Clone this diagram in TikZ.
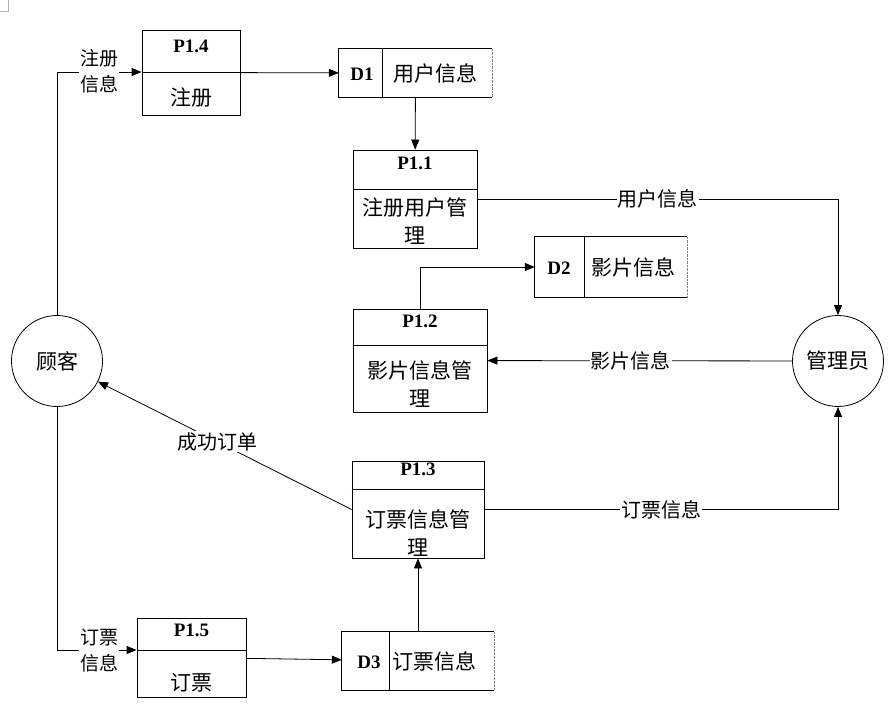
\documentclass[tikz,border=0pt]{standalone}
\usepackage{fontspec}
\setmainfont{Liberation Serif}
\newfontfamily\cjk{Noto Sans CJK SC}
\usetikzlibrary{arrows.meta,positioning,calc}

\begin{document}
\begin{tikzpicture}[x=1pt,y=-1pt,
    box/.style={draw, line width=0.8pt, inner sep=0pt},
    store/.style={draw=none, inner sep=0pt},
    ent/.style={draw, circle, line width=0.8pt, minimum size=91pt, inner sep=0pt, font=\cjk\fontsize{21}{24}\selectfont},
    pid/.style={font=\bfseries\fontsize{19}{22}\selectfont, inner sep=0pt},
    ptxt/.style={font=\cjk\fontsize{21}{28}\selectfont, align=center, inner sep=0pt},
    lbl/.style={font=\cjk\fontsize{20}{26}\selectfont, align=center, fill=white, inner sep=1pt},
    sidelbl/.style={lbl, font=\cjk\fontsize{19}{26}\selectfont},
    flow/.style={draw, line width=0.8pt, -{Triangle[length=10pt,width=8pt]}}
]
    % Margini della pagina
    \useasboundingbox (0,0) rectangle (892,723);
    \draw[gray!60, line width=0.5pt] (0,11) -- (8,11) -- (8,0);

    % Entita' esterne
    \node[ent] (cust) at (57,361) {顾客};
    \node[ent] (mgr) at (838,361) {管理员};

    % Processi
    \node[box, minimum width=98pt, minimum height=85pt] (p14) at (191,72.5) {};
    \draw[line width=0.8pt] (p14.west |- 0,72) -- (p14.east |- 0,72);
    \node[pid] (p14id) at (191,46) {P1.4};
    \node[ptxt] (p14txt) at (191,98) {注册};

    \node[box, minimum width=124pt, minimum height=98pt] (p11) at (415,199) {};
    \draw[line width=0.8pt] (p11.west |- 0,189) -- (p11.east |- 0,189);
    \node[pid] (p11id) at (415,163) {P1.1};
    \node[ptxt] (p11txt) at (415,221) {注册用户管\\理};

    \node[box, minimum width=134pt, minimum height=103pt] (p12) at (420,360.5) {};
    \draw[line width=0.8pt] (p12.west |- 0,345) -- (p12.east |- 0,345);
    \node[pid] (p12id) at (420,321) {P1.2};
    \node[ptxt] (p12txt) at (420,384) {影片信息管\\理};

    \node[box, minimum width=132pt, minimum height=97pt] (p13) at (418,509.5) {};
    \draw[line width=0.8pt] (p13.west |- 0,489) -- (p13.east |- 0,489);
    \node[pid] (p13id) at (418,469) {P1.3};
    \node[ptxt] (p13txt) at (418,533) {订票信息管\\理};

    \node[box, minimum width=109pt, minimum height=79pt] (p15) at (191.5,657.5) {};
    \draw[line width=0.8pt] (p15.west |- 0,650) -- (p15.east |- 0,650);
    \node[pid] (p15id) at (191.5,630) {P1.5};
    \node[ptxt] (p15txt) at (191.5,683) {订票};

    % Archivi dati
    \node[store, minimum width=153pt, minimum height=48pt] (d1) at (415.5,73) {};
    \draw[line width=0.8pt] (d1.north east) -- (d1.north west) -- (d1.south west) -- (d1.south east);
    \draw[gray, densely dotted] (d1.north east) -- (d1.south east);
    \draw[line width=0.8pt] (d1.north -| 382,0) -- (d1.south -| 382,0);
    \node[pid] (d1id) at (362,74) {D1};
    \node[ptxt] (d1txt) at (435,73) {用户信息};

    \node[store, minimum width=152pt, minimum height=60pt] (d2) at (611,267) {};
    \draw[line width=0.8pt] (d2.north east) -- (d2.north west) -- (d2.south west) -- (d2.south east);
    \draw[gray, densely dotted] (d2.north east) -- (d2.south east);
    \draw[line width=0.8pt] (d2.north -| 584,0) -- (d2.south -| 584,0);
    \node[pid] (d2id) at (559,268) {D2};
    \node[ptxt] (d2txt) at (633,267) {影片信息};

    \node[store, minimum width=152pt, minimum height=58pt] (d3) at (418,661) {};
    \draw[line width=0.8pt] (d3.north east) -- (d3.north west) -- (d3.south west) -- (d3.south east);
    \draw[gray, densely dotted] (d3.north east) -- (d3.south east);
    \draw[line width=0.8pt] (d3.north -| 389,0) -- (d3.south -| 389,0);
    \node[pid] (d3id) at (369,662) {D3};
    \node[ptxt] (d3txt) at (434,661) {订票信息};

    % Flussi di dati
    \coordinate (p14in) at (p14.west |- 0,72);
    \coordinate (p15in) at (p15.west |- 0,650);
    \draw[flow] (cust) |- (p14in);
    \node[sidelbl] (l14) at (99,71) {注册\\信息};
    \draw[flow] (cust) |- (p15in);
    \node[sidelbl] (l15) at (99,650) {订票\\信息};

    \draw[flow] (p14) -- (d1);
    \draw[flow] (d1) -- (p11);
    \draw[flow] (p11) -| (mgr) node[lbl, pos=0.25] (l11) {用户信息};
    \draw[flow] (p12) |- (d2);
    \draw[flow] (mgr) -- (p12) node[lbl, pos=0.53] (l12) {影片信息};
    \draw[flow] (p13) -| (mgr) node[lbl, pos=0.25] (l13) {订票信息};
    \draw[flow] (p13.west) -- (cust) node[lbl, pos=0.53] (lok) {成功订单};
    \draw[flow] (p15) -- (d3);
    \draw[flow] (d3) -- (p13);
\end{tikzpicture}
\end{document}
